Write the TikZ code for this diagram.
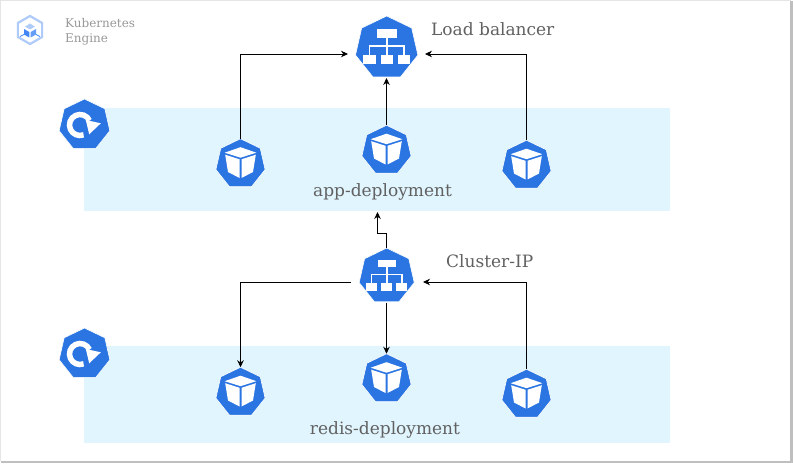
\documentclass[tikz,border=0pt]{standalone}
\usepackage{fontspec}
\setmainfont{DejaVu Serif}
\usetikzlibrary{shapes.geometric,arrows.meta}
\definecolor{k8blue}{HTML}{2A75E2}
\definecolor{panelblue}{HTML}{E1F5FE}
\definecolor{labelgrey}{HTML}{616161}
\definecolor{logolight}{HTML}{AECBFA}
\definecolor{logomid}{HTML}{669DF6}
\definecolor{logodark}{HTML}{4285F4}
\tikzset{
  hept/.style={regular polygon, regular polygon sides=7, fill=k8blue, draw=white, line width=0.6pt, inner sep=0pt, outer sep=0pt},
  pod/.style={hept, minimum size=50.5pt},
  dep/.style={hept, minimum size=52pt},
  panel/.style={fill=panelblue, draw=none},
  lbl/.style={text=labelgrey, font=\fontsize{17}{19}\selectfont, inner sep=0pt},
  link/.style={draw=black, line width=0.75pt, -{Stealth[length=7pt,width=6.5pt]}},
  cube/.pic={
    \fill[white] (0,-16.8) -- (15.8,-11.3) -- (0,-6.3) -- (-15.8,-11.3) -- cycle;
    \fill[white] (-15.3,-9.3) -- (-1,-4.7) -- (-1,14) -- (-12.5,8) -- cycle;
    \fill[white] (15.3,-9.3) -- (1,-4.7) -- (1,14) -- (12.5,8) -- cycle;
  },
  tree/.pic={
    \fill[white] (-10,-18.7) rectangle (10,-10);
    \fill[white] (-23.3,7.5) rectangle (-11,16.5);
    \fill[white] (-6,7.5) rectangle (6,16.5);
    \fill[white] (11,7.5) rectangle (23.3,16.5);
    \draw[white, line width=1.6pt] (0,-10.3) -- (0,7.7) (-17.3,7.7) -- (-17.3,-2) -- (17.3,-2) -- (17.3,7.7);
  },
  redo/.pic={
    \draw[white, line width=5.5pt] (5.02,-4.44) arc[start angle=25, end angle=290, radius=10.5pt];
    \fill[white] (1.3,-5) -- (16.3,-1.7) -- (4.7,9.3) -- cycle;
  },
}
\begin{document}
\begin{tikzpicture}[x=1pt,y=-1pt]
  \useasboundingbox (0,0) rectangle (793,465);
  % page frame
  \fill[white] (0,0) rectangle (793,465);
  \draw[black!10, line width=1.2pt] (0.6,461) -- (0.6,0.6) -- (791,0.6);
  \draw[black!25, line width=2.6pt] (791.2,1) -- (791.2,461.8) -- (1,461.8);

  % panels
  \path[panel] (84,108) rectangle (670,211);
  \path[panel] (84,346) rectangle (670,443);

  % logo
  \node [regular polygon, regular polygon sides=6, shape border rotate=30, draw=logolight, line width=2.2pt, minimum size=28pt, inner sep=0pt] (logo) at (30,30) {};
  \fill[logolight] (30,23.5) -- (35,26.7) -- (30,29.3) -- (25,26.7) -- cycle;
  \fill[logodark] (24,29) -- (29.3,32) -- (29.3,37.5) -- (24,34.5) -- cycle;
  \fill[logomid] (36,29) -- (30.7,32) -- (30.7,37.5) -- (36,34.5) -- cycle;
  \draw[logodark, line width=0.8pt] (24,34.5) -- (20,36.5) (36,34.5) -- (40,36.5);
  \node [anchor=north west, inner sep=0pt, align=left, text=black!40, font=\fontsize{12}{14.5}\selectfont] (title) at (65,18.5) {Kubernetes\\Engine};

  % icons
  \node [hept, minimum size=64pt] (lb) at (386.7,48) {};
  \node [hept, minimum size=56.5pt] (cip) at (386.7,276.3) {};
  \node [pod] (apod1) at (240.5,164) {};
  \node [pod] (apod2) at (386.5,150.5) {};
  \node [pod] (apod3) at (526.5,165.5) {};
  \node [pod] (rpod1) at (240.5,392.5) {};
  \node [pod] (rpod2) at (386.5,379) {};
  \node [pod] (rpod3) at (526.5,394.5) {};
  \node [dep] (adep) at (84.5,125) {};
  \node [dep] (rdep) at (84.5,354) {};
  \pic at (lb) {tree};
  \pic[scale=0.88] at (cip) {tree};
  \foreach \p in {apod1,apod2,apod3,rpod1,rpod2,rpod3}
    \pic at (\p) {cube};
  \pic at (adep) {redo};
  \pic at (rdep) {redo};

  % labels
  \node [lbl, anchor=west] (lblb) at (431,29.5) {Load balancer};
  \node [lbl, anchor=west] (lbcip) at (446,261) {Cluster-IP};
  \node [lbl] (lbapp) at (382.5,192) {app-deployment};
  \node [lbl] (lbredis) at (385,430) {redis-deployment};

  % free ends
  \coordinate (lbl) at (348,54);
  \coordinate (lbr) at (425,54);
  \coordinate (lbb) at (386.5,78);
  \coordinate (cipl) at (351,282);
  \coordinate (cipr) at (423,282);
  \coordinate (cipt) at (386.5,248);
  \coordinate (cipb) at (386.5,303);
  \coordinate (appin) at (377.5,212);

  % connectors
  \draw[link] (apod1.north) |- (lbl);
  \draw[link] (apod2.north) -- (lbb);
  \draw[link] (apod3.north) |- (lbr);
  \draw[link] (cipt) -- (386.5,233) -- (377.5,233) -- (appin);
  \draw[link] (cipl) -| (rpod1.north);
  \draw[link] (cipb) -- (rpod2.north);
  \draw[link] (rpod3.north) |- (cipr);
\end{tikzpicture}
\end{document}
